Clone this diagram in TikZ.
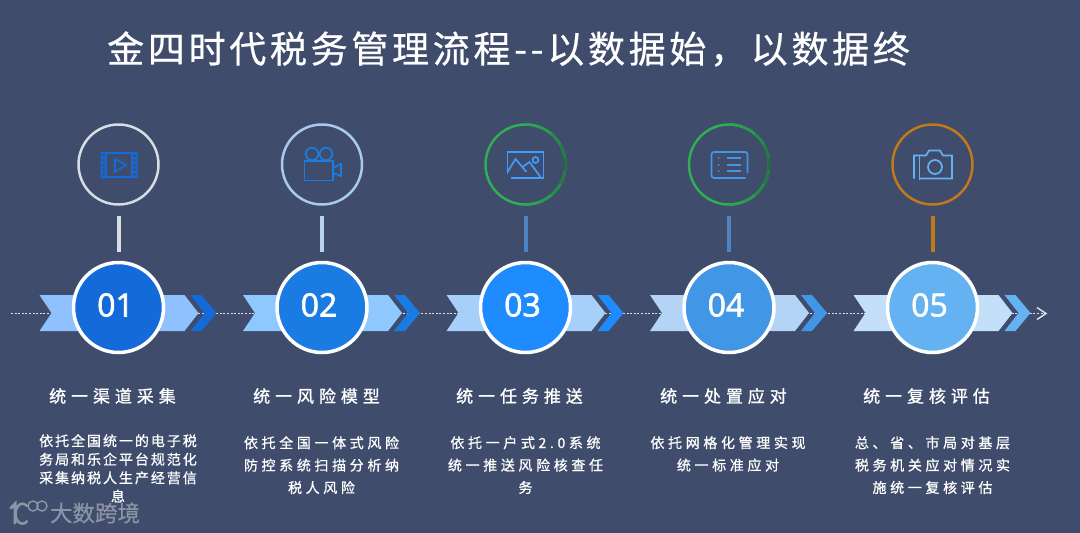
\documentclass[tikz,border=0pt]{standalone}
\usepackage{fontspec}
\setmainfont{Noto Sans CJK SC}
\newfontfamily\numfont[FakeBold=2]{Open Sans}
\newfontfamily\titlecn[LetterSpace=10,FakeBold=0.6]{Noto Sans CJK SC}
\newfontfamily\headcn[LetterSpace=29,FakeBold=1]{Noto Sans CJK SC}
\newfontfamily\bodycn[LetterSpace=26,FakeBold=0.8]{Noto Sans CJK SC}
\newfontfamily\bodytight[LetterSpace=14,FakeBold=0.8]{Noto Sans CJK SC}
\newfontfamily\markcn[FakeBold=0.6]{Noto Sans CJK SC}

\definecolor{pagebg}{HTML}{3F4C6B}
\definecolor{markgray}{HTML}{8C94A6}
\definecolor{dotgray}{HTML}{DDE2EA}
\definecolor{numa}{HTML}{146AD8}
\definecolor{numb}{HTML}{1A7CE2}
\definecolor{numc}{HTML}{1E8BFF}
\definecolor{numd}{HTML}{4296E6}
\definecolor{nume}{HTML}{64B2F2}
\definecolor{riba}{HTML}{8FC1FF}
\definecolor{ribb}{HTML}{8FC8FF}
\definecolor{ribc}{HTML}{A6D0FA}
\definecolor{ribd}{HTML}{B4D4F5}
\definecolor{ribe}{HTML}{C4E0F8}
\definecolor{ringa}{HTML}{D8DCE4}
\definecolor{ringb}{HTML}{A9C9EE}
\definecolor{ringc}{HTML}{2FAE55}
\definecolor{ringd}{HTML}{2FAE55}
\definecolor{ringe}{HTML}{C07A1A}
\definecolor{ringdark}{HTML}{1C7238}
\definecolor{bara}{HTML}{D8DCE4}
\definecolor{barb}{HTML}{B9D2EE}
\definecolor{barc}{HTML}{4F82C0}
\definecolor{bard}{HTML}{4F82C0}
\definecolor{bare}{HTML}{C07A1A}

\tikzset{
  iconring/.style={circle, draw, line width=2.5pt, minimum size=80pt, inner sep=0pt, outer sep=0pt},
  numdisc/.style={circle, draw=white, line width=3.5pt, minimum size=90pt, inner sep=0pt, outer sep=0pt},
  numtext/.style={text=white, inner sep=0pt, font=\numfont\fontsize{32}{32}\selectfont},
  stemline/.style={line width=4pt, shorten <=11pt, shorten >=11pt},
  flowline/.style={dotgray, line width=1.8pt, dash pattern=on 2pt off 1.6pt},
  headtext/.style={text=white, inner sep=0pt, font=\headcn\fontsize{17}{17}\selectfont},
  bodytext/.style={text=white, inner sep=0pt, align=center, anchor=north, font=\bodycn\fontsize{14}{22.4}\selectfont},
  icon/.style={line width=1.7pt, fill=none}
}

\begin{document}
\begin{tikzpicture}[x=1pt, y=-1pt]

\fill[pagebg] (0,0) rectangle (1080,533);
\useasboundingbox (0,0) rectangle (1080,533);

\node[anchor=west, text=white, inner sep=0pt, font=\titlecn\fontsize{37}{37}\selectfont] (title) at (107,49) {金四时代税务管理流程--以数据始，以数据终};

% dotted flow line behind the ribbons
\coordinate (flowstart) at (11,313.5);
\coordinate (flowend) at (1045,313.5);
\draw[flowline] (flowstart) -- (flowend);
\draw[dotgray, line width=1.5pt] ([shift={(-8,-6)}]flowend) -- ([shift={(1,0)}]flowend) -- ([shift={(-8,6)}]flowend);

% one step: ribbon, chevron, number disc, icon ring, stem
\foreach \cx/\idx/\tag in {118.5/1/a, 322/2/b, 525.5/3/c, 729/4/d, 932.5/5/e} {%
  \fill[rib\tag] (\cx-79,295) -- (\cx+66,295) -- (\cx+80,313) -- (\cx+66,331) -- (\cx-79,331) -- (\cx-67,313) -- cycle;
  \fill[num\tag] (\cx+72,295) -- (\cx+83,295) -- (\cx+98,313) -- (\cx+83,331) -- (\cx+72,331) -- (\cx+86,313) -- cycle;
  \node[numdisc, fill=num\tag] (num\idx) at (\cx,307.5) {};
  \node[numtext] (lab\idx) at (\cx-3,305) {0\idx};
  \node[iconring, draw=ring\tag] (ring\idx) at (\cx,164.5) {};
  \draw[stemline, bar\tag] (ring\idx.south) -- (num\idx.north);
}

% green rings go darker on the right
\foreach \rx in {525.5,729} {
  \foreach \ang/\mixv in {-80/15,-60/30,-40/55,-20/80,0/100,20/80,40/55,60/30,80/15} {
    \draw[ringdark!\mixv!ringc, line width=2.5pt] (\rx,164.5) ++(\ang-10:40) arc (\ang-10:\ang+10:40);
  }
}

% film icon
\begin{scope}[shift={(119,165)}]
  \fill[numa] (-18.5,-13) rectangle (-12.5,13) (12.5,-13) rectangle (18.5,13);
  \foreach \hy in {-9.5,-4.7,0,4.7,9.5} {
    \fill[pagebg!70!numa] (-16.8,\hy-1.3) rectangle (-14.2,\hy+1.3) (14.2,\hy-1.3) rectangle (16.8,\hy+1.3);
  }
  \draw[icon, numa] (-13,-12.2) rectangle (13,12.2);
  \draw[icon, numa] (-4,-6) -- (7,0) -- (-4,7) -- cycle;
\end{scope}

% movie camera icon
\begin{scope}[shift={(322,165)}]
  \draw[icon, numb] (-17.5,-4) rectangle (11,15.5);
  \draw[icon, numb] (-10,-11) circle (6.3) (4,-11) circle (6.3);
  \draw[icon, numb] (11,3) -- (19,-1) -- (19,11) -- (11,8);
\end{scope}

% picture icon
\begin{scope}[shift={(525.5,165)}]
  \draw[icon, numc!85!white] (-18,9) -- (-18,-13) -- (18,-13) -- (18,13) -- (-15,13);
  \draw[icon, numc!85!white] (-18,7) -- (-10,-6) -- (1,7) (-3,2) -- (4,-3) -- (15,12);
  \draw[icon, numc!85!white] (10,-5) circle (3);
\end{scope}

% list icon
\begin{scope}[shift={(729.5,165)}]
  \draw[icon, numd, rounded corners=2.5pt] (18,8) -- (18,-13) -- (-18,-13) -- (-18,13) -- (16,13);
  \foreach \ly in {-7,0,6} {
    \draw[icon, numd] (-3,\ly) -- (11,\ly);
    \fill[numd] (-11,\ly) circle (1);
  }
\end{scope}

% photo camera icon
\begin{scope}[shift={(933,165)}]
  \draw[icon, nume] (-19,13.5) -- (-19,-9.5) -- (-7,-9.5) -- (-4,-14.5) -- (7,-14.5) -- (10,-9.5) -- (19,-9.5) -- (19,13.5) -- (-14,13.5);
  \draw[icon, nume] (-13.5,-9.5) -- (-13.5,14.5);
  \draw[icon, nume] (2,2) circle (7);
\end{scope}

% headings
\node[headtext] (heada) at (112.5,396) {统一渠道采集};
\node[headtext] (headb) at (316.5,396) {统一风险模型};
\node[headtext] (headc) at (519.5,396) {统一任务推送};
\node[headtext] (headd) at (723.5,396) {统一处置应对};
\node[headtext] (heade) at (926.5,396) {统一复核评估};

% descriptions
\node[bodytext, font=\bodytight\fontsize{14}{18.5}\selectfont] (bodya) at (118,434) {依托全国统一的电子税\\务局和乐企平台规范化\\采集纳税人生产经营信\\息};
\node[bodytext] (bodyb) at (321.5,436) {依托全国一体式风险\\防控系统扫描分析纳\\税人风险};
\node[bodytext] (bodyc) at (525.5,436) {依托一户式2.0系统\\统一推送风险核查任\\务};
\node[bodytext] (bodyd) at (728,436) {依托网格化管理实现\\统一标准应对};
\node[bodytext] (bodye) at (932.5,436) {总、省、市局对基层\\税务机关应对情况实\\施统一复核评估};

% watermark
\draw[markgray, line width=3pt, line cap=round] (11,508) -- (15,504) -- (15,523);
\draw[markgray, line width=2.5pt, line cap=round] (27,506) arc (-50:-310:7 and 10);
\draw[markgray, line width=1.4pt] (33,506) circle (5) (42,506) circle (5);
\node[text=markgray, inner sep=0pt, font=\markcn\fontsize{22.5}{22.5}\selectfont] (mark) at (95,513) {大数跨境};

\end{tikzpicture}
\end{document}
